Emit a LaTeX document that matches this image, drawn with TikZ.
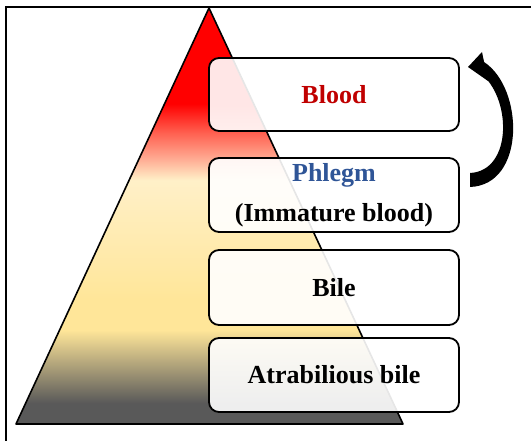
\documentclass[tikz,border=0pt]{standalone}
\usepackage{fontspec}
\setmainfont{Liberation Serif}
\usetikzlibrary{arrows.meta}
\definecolor{pgray}{HTML}{595959}
\definecolor{pyel}{HTML}{FFE699}
\definecolor{pcream}{HTML}{FFF0C8}
\definecolor{ppink}{HTML}{FFA890}
\definecolor{psalmon}{HTML}{FF6050}
\definecolor{pred}{HTML}{FF0000}
\definecolor{bloodred}{HTML}{C00000}
\definecolor{phlegmblue}{HTML}{2F5597}
\pgfdeclareverticalshading{pyr}{100bp}{color(0bp)=(pgray); color(27.5bp)=(pgray); color(36.3bp)=(pyel); color(40bp)=(pyel); color(54.3bp)=(pcream); color(57bp)=(ppink); color(60bp)=(psalmon); color(63.5bp)=(pred); color(100bp)=(pred)}
\tikzset{
  humour/.style={draw=black, line width=1.8pt, rounded corners=10pt, fill=white, fill opacity=0.9, text opacity=1, minimum width=250pt, inner sep=0pt, font=\fontsize{26}{30}\selectfont\bfseries},
  frameline/.style={line width=1.5pt, black},
}
\begin{document}
\begin{tikzpicture}[x=1pt, y=-1pt]
\useasboundingbox (0,0) rectangle (531,441);
% frame
\coordinate (fbl) at (6,441);
\coordinate (ftl) at (6,7);
\coordinate (ftr) at (531,7);
\draw[frameline] (fbl) -- (ftl) -- (ftr);
% pyramid
\coordinate (apex) at (209,8);
\coordinate (bl) at (16,424);
\coordinate (br) at (403,424);
\shadedraw[shading=pyr, draw=black, line width=1.6pt, line join=round] (apex) -- (br) -- (bl) -- cycle;
% boxes
\node[humour, minimum height=73pt, text=bloodred] (blood) at (334,94.5) {Blood};
\node[humour, minimum height=74pt, align=center, font=\fontsize{26}{40}\selectfont\bfseries] (phlegm) at (334,195) {\textcolor{phlegmblue}{Phlegm}\\(Immature blood)};
\node[humour, minimum height=75pt] (bile) at (334,287.5) {Bile};
\node[humour, minimum height=74pt] (atra) at (334,375) {Atrabilious bile};
% curved arrow
\fill[black] (470,187) .. controls (526,185) and (524,88) .. (484,62)
  -- (479,72) .. controls (512,96) and (513,171) .. (470,173) -- cycle;
\fill[black] (468,67) -- (482,52) -- (488,81) -- cycle;
\end{tikzpicture}
\end{document}
